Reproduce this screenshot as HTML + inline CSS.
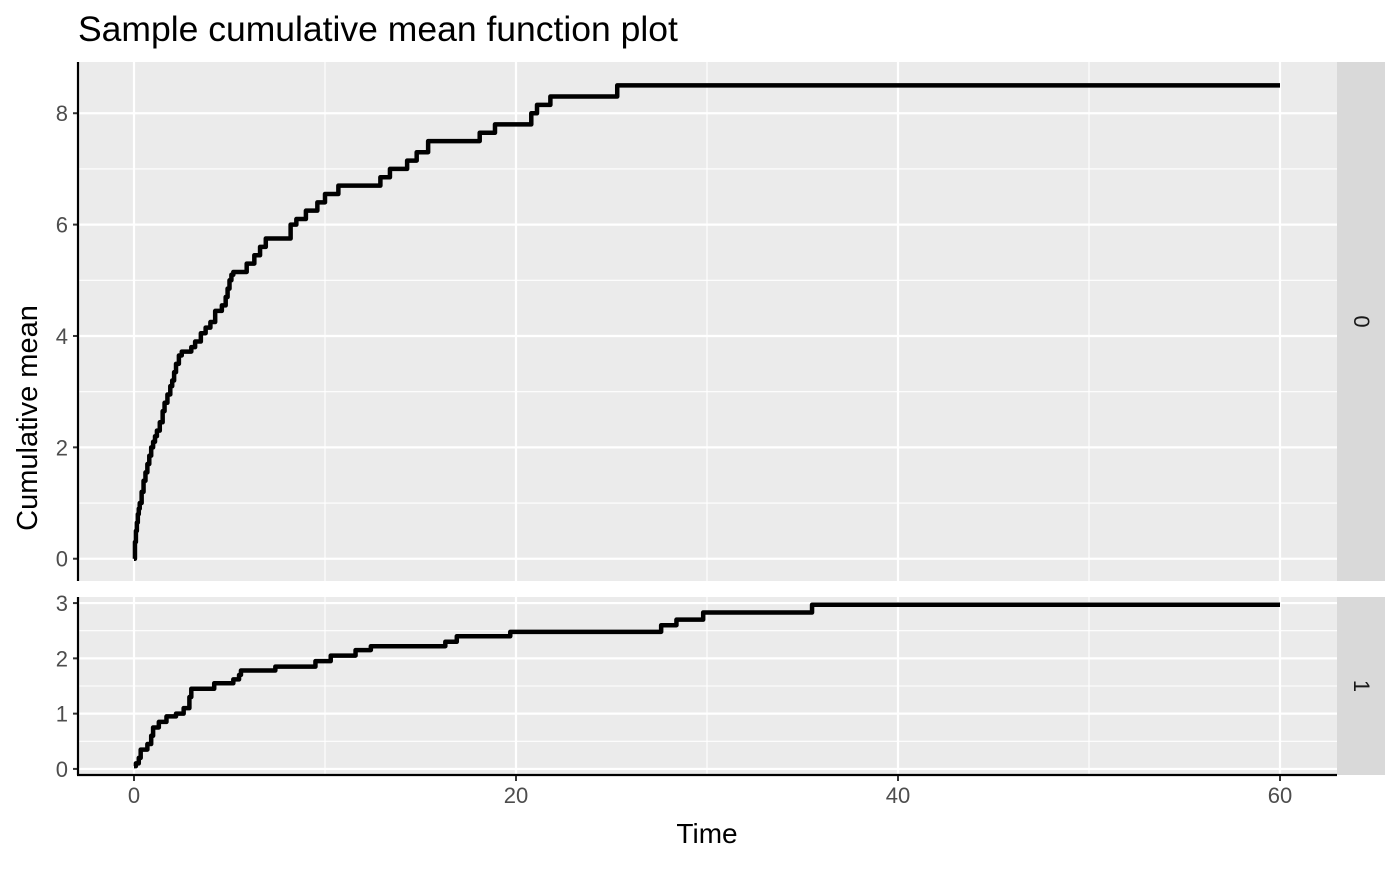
<!DOCTYPE html>
<html><head><meta charset="utf-8"><style>
body{margin:0;background:#fff;}
svg text{font-family:"Liberation Sans",sans-serif;}
</style></head><body>
<svg id="c" width="1400" height="866" xmlns="http://www.w3.org/2000/svg">
<text x="78" y="41" font-size="35.5" fill="#000">Sample cumulative mean function plot</text>
<text transform="translate(37,418) rotate(-90)" font-size="29" text-anchor="middle" fill="#000">Cumulative mean</text>
<text x="707" y="843" font-size="28" text-anchor="middle" fill="#000">Time</text>
</svg>
<script>
const topTimes=[0,0.05,0.1,0.15,0.2,0.25,0.3,0.4,0.5,0.6,0.7,0.8,0.9,1.0,1.1,1.2,1.35,1.5,1.6,1.75,1.9,2.0,2.1,2.2,2.35,2.5,3.0,3.2,3.5,3.75,4.0,4.25,4.6,4.8,4.9,5.0,5.1,5.2,5.9,6.3,6.6,6.9,7.2,8.2,8.5,9.0,9.6,10.0,10.7,12.9,13.4,14.3,14.8,15.4,18.1,18.9,20.8,21.1,21.8,25.3,60];
const topValues=[0,0.3,0.5,0.65,0.8,0.9,1.0,1.2,1.4,1.55,1.7,1.85,2.0,2.1,2.2,2.3,2.45,2.65,2.8,2.95,3.1,3.2,3.35,3.5,3.65,3.72,3.8,3.9,4.05,4.15,4.25,4.45,4.55,4.7,4.85,5.0,5.1,5.15,5.3,5.45,5.6,5.75,5.75,6.0,6.1,6.25,6.4,6.55,6.7,6.85,7.0,7.15,7.3,7.5,7.65,7.8,8.0,8.15,8.3,8.5,8.5];
const botTimes=[0,0.1,0.25,0.35,0.7,0.9,1.0,1.3,1.7,2.2,2.6,2.9,3.0,4.2,5.2,5.5,5.6,7.4,9.5,10.3,11.6,12.4,16.3,16.9,19.7,27.6,28.4,29.8,35.5,60];
const botValues=[0.05,0.1,0.2,0.35,0.45,0.6,0.75,0.85,0.95,1.0,1.1,1.3,1.45,1.55,1.62,1.7,1.78,1.85,1.95,2.05,2.15,2.22,2.3,2.4,2.48,2.6,2.7,2.83,2.97,2.97];
const xTicks=[0,20,40,60];
const topTicks=[0,2,4,6,8];
const botTicks=[0,1,2,3];
const facetLabels=["0","1"];

const svg=document.getElementById('c');
const NS='http://www.w3.org/2000/svg';
const X0=78,X1=1337;
const xs=t=>134+t*19.1;
function el(tag,attrs,parent){const e=document.createElementNS(NS,tag);for(const k in attrs)e.setAttribute(k,attrs[k]);(parent||svg).appendChild(e);return e;}
function panel(y0,y1,ymin,ymax,ticks,times,vals,label,idx){
  const ys=v=>y1-(v-ymin)/(ymax-ymin)*(y1-y0);
  const g=el('g',{});
  
  
  el('rect',{x:X0,y:y0,width:X1-X0,height:y1-y0,fill:'#ebebeb'},g);
  for(let i=0;i<ticks.length-1;i++){const m=(ticks[i]+ticks[i+1])/2;el('line',{x1:X0,x2:X1,y1:ys(m),y2:ys(m),stroke:'#fff','stroke-width':1.1},g);}
  [-10,10,30,50].forEach(t=>{if(xs(t)>X0)el('line',{x1:xs(t),x2:xs(t),y1:y0,y2:y1,stroke:'#fff','stroke-width':1.1},g);});
  ticks.forEach(v=>{el('line',{x1:X0,x2:X1,y1:ys(v),y2:ys(v),stroke:'#fff','stroke-width':2.2},g);
    el('line',{x1:X0-5,x2:X0,y1:ys(v),y2:ys(v),stroke:'#333','stroke-width':2},g);
    const t=el('text',{x:X0-10,y:ys(v)+8,'font-size':22,'text-anchor':'end',fill:'#4d4d4d'},g);t.textContent=v;
    });
  xTicks.forEach(t=>el('line',{x1:xs(t),x2:xs(t),y1:y0,y2:y1,stroke:'#fff','stroke-width':2.2},g));
  let d='M'+xs(times[0])+','+ys(vals[0]);
  for(let i=1;i<times.length;i++){d+=' H'+xs(times[i])+' V'+ys(vals[i]);}
  const p=el('path',{d:d,fill:'none',stroke:'#000','stroke-width':4.5,'stroke-linejoin':'round'},g);
  
  
  el('line',{x1:X0,x2:X0,y1:y0,y2:y1,stroke:'#000','stroke-width':2.2},g);
  el('rect',{x:X1,y:y0,width:48,height:y1-y0,fill:'#d9d9d9'},g);
  const s=el('text',{'font-size':22,'text-anchor':'middle',fill:'#1a1a1a',transform:`translate(${X1+17},${(y0+y1)/2}) rotate(90)`},g);
  s.textContent=label;
  
  
}
panel(62,581,-0.4,8.92,topTicks,topTimes,topValues,facetLabels[0],0);
panel(597,775,-0.11,3.11,botTicks,botTimes,botValues,facetLabels[1],1);
el('line',{x1:X0-1,x2:X1,y1:775,y2:775,stroke:'#000','stroke-width':2.2});
xTicks.forEach(t=>{el('line',{x1:xs(t),x2:xs(t),y1:776,y2:781,stroke:'#333','stroke-width':2});
  const tx=el('text',{x:xs(t),y:803,'font-size':22,'text-anchor':'middle',fill:'#4d4d4d'});tx.textContent=t;
  
  });
</script>
</body></html>
